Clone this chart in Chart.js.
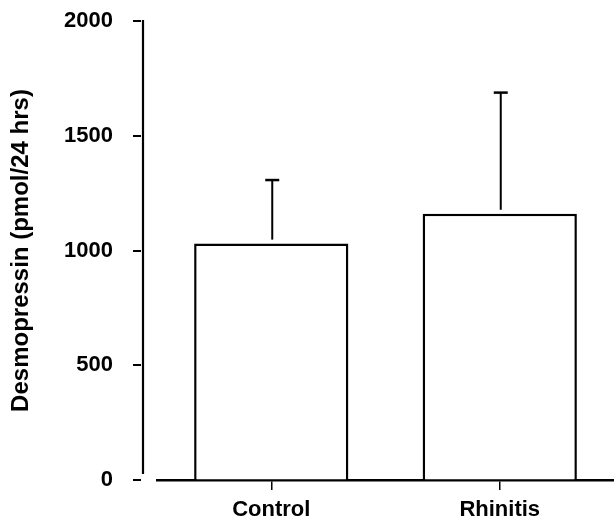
<!DOCTYPE html>
<html>
<head>
<meta charset="utf-8">
<script src="https://cdn.jsdelivr.net/npm/chart.js@4"></script>
<style>
  html, body { margin: 0; padding: 0; background: #fff; }
  #wrap { width: 614px; height: 522px; position: relative; }
</style>
</head>
<body>
<div id="wrap"><canvas id="c" width="614" height="522"></canvas></div>
<script>
const categories = ['Control', 'Rhinitis'];
const means = [1030, 1160];
const errors = [277, 528];
const yTicks = [0, 500, 1000, 1500, 2000];
const yTitle = 'Desmopressin (pmol/24 hrs)';

const FONT = '"Liberation Sans", Arial, Helvetica, sans-serif';

const axisAndErrors = {
  id: 'axisAndErrors',
  afterDatasetsDraw(chart) {
    const ctx = chart.ctx;
    const y = chart.scales.y;
    const axX = chart.chartArea.left - 14;
    ctx.save();
    ctx.strokeStyle = '#000';
    ctx.lineCap = 'butt';
    // y axis line (stops short of zero)
    ctx.lineWidth = 2.2;
    ctx.beginPath();
    ctx.moveTo(axX, y.getPixelForValue(2000) - 1);
    ctx.lineTo(axX, y.getPixelForValue(0) - 6);
    ctx.stroke();
    // y tick marks
    ctx.lineWidth = 2;
    yTicks.forEach(v => {
      const py = Math.round(y.getPixelForValue(v));
      ctx.beginPath();
      ctx.moveTo(axX - 10, py);
      ctx.lineTo(axX - 2, py);
      ctx.stroke();
    });
    // error bars
    const meta = chart.getDatasetMeta(0);
    meta.data.forEach((bar, i) => {
      const cx = bar.x + 1;
      const top = y.getPixelForValue(means[i]) - 4;
      const cap = y.getPixelForValue(means[i] + errors[i]);
      ctx.lineWidth = 2;
      ctx.beginPath();
      ctx.moveTo(cx, top);
      ctx.lineTo(cx, cap);
      ctx.stroke();
      ctx.lineWidth = 2.5;
      ctx.beginPath();
      ctx.moveTo(cx - 7, cap);
      ctx.lineTo(cx + 7, cap);
      ctx.stroke();
    });
    ctx.restore();
  }
};

new Chart(document.getElementById('c'), {
  type: 'bar',
  data: {
    labels: categories,
    datasets: [{
      data: means,
      backgroundColor: '#ffffff',
      borderColor: '#000000',
      borderWidth: 2.5,
      borderSkipped: 'start',
      barPercentage: 0.675,
      categoryPercentage: 1
    }]
  },
  options: {
    responsive: false,
    animation: false,
    devicePixelRatio: 1,
    layout: { padding: { top: 21, right: 0, left: 0, bottom: 0 } },
    plugins: { legend: { display: false }, tooltip: { enabled: false } },
    scales: {
      x: {
        afterFit(s) { s.height = 42; },
        border: { display: true, color: '#000', width: 2.5 },
        grid: { display: true, drawOnChartArea: false, drawTicks: true, offset: false, tickLength: 10, color: '#000', lineWidth: 1.5 },
        ticks: { color: '#000', padding: 7, font: { family: FONT, size: 22, weight: 'bold' } }
      },
      y: {
        min: 0,
        max: 2000,
        afterFit(s) { s.width = 157; },
        afterBuildTicks(s) { s.ticks = yTicks.map(v => ({ value: v })); },
        border: { display: false },
        grid: { display: true, drawOnChartArea: false, drawTicks: true, tickLength: 44, color: 'rgba(0,0,0,0)' },
        ticks: { color: '#000', padding: 0, callback: v => String(v), font: { family: FONT, size: 22, weight: 'bold' } },
        title: {
          display: true,
          text: yTitle,
          color: '#000',
          padding: { top: 7, bottom: 0 },
          font: { family: FONT, size: 24, weight: 'bold' }
        }
      }
    }
  },
  plugins: [axisAndErrors]
});
</script>
</body>
</html>
